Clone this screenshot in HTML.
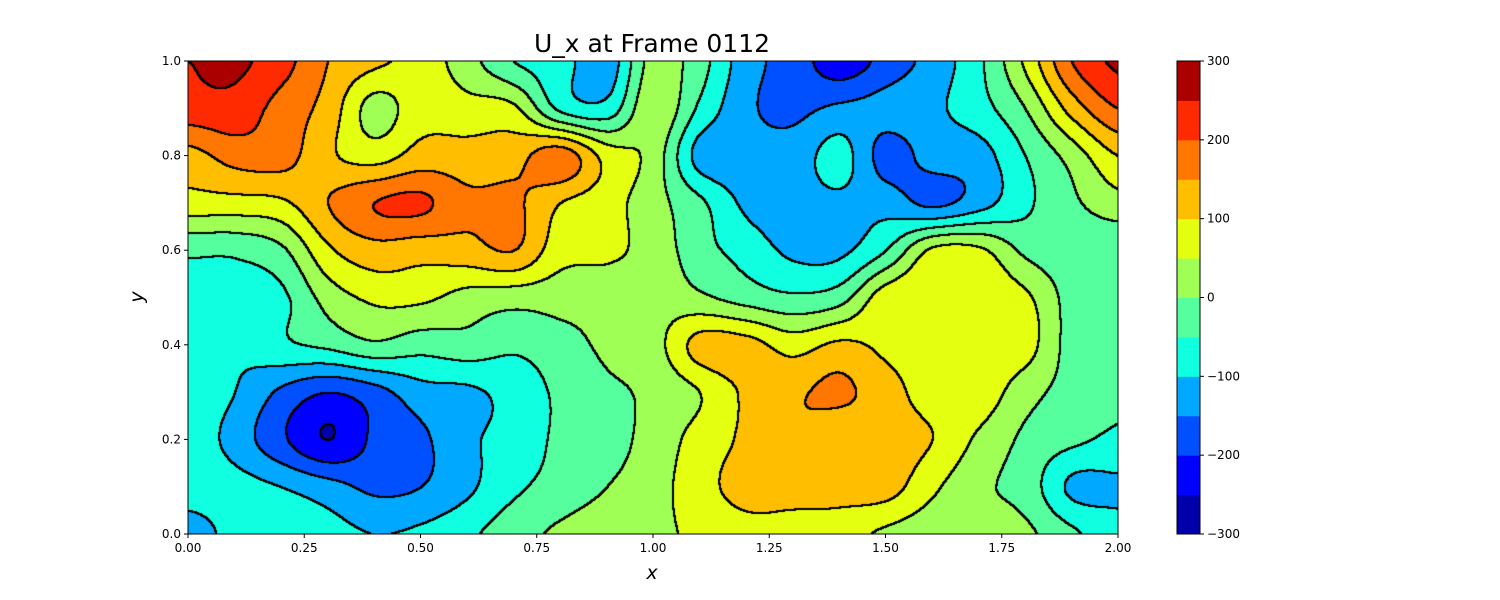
<!DOCTYPE html>
<html><head><meta charset="utf-8"><style>
body{margin:0;background:#fff;width:1500px;height:600px;overflow:hidden;font-family:"DejaVu Sans","Liberation Sans",sans-serif}
#plot{position:absolute;left:188px;top:61px}
svg{position:absolute;left:0;top:0;font-family:"DejaVu Sans","Liberation Sans",sans-serif}
</style></head><body>
<canvas id="plot" width="930" height="473"></canvas>
<svg id="ov" width="1500" height="600"></svg>
<script>
const xCoords=[0,0.1,0.2,0.3,0.4,0.5,0.6,0.7,0.8,0.9,1.0,1.1,1.2,1.3,1.4,1.5,1.6,1.7,1.8,1.9,2.0];
const yCoords=[0,0.1,0.2,0.3,0.4,0.5,0.6,0.7,0.8,0.9,1.0];
const row00=[-130,-80,-60,-80,-100,-90,-60,-20,10,30,40,60,80,80,70,40,20,20,10,-40,-80];
const row01=[-70,-80,-100,-130,-160,-150,-110,-60,-30,0,30,80,120,120,120,120,60,10,-20,-110,-110];
const row02=[-70,-120,-190,-250,-190,-160,-110,-80,-40,-20,20,70,110,140,110,120,100,40,-10,-40,-60];
const row03=[-70,-100,-160,-200,-170,-120,-110,-80,-40,-10,10,50,110,140,160,120,80,80,20,-20,-40];
const row04=[-70,-90,-60,-40,-10,-30,-20,-40,-20,10,30,120,120,80,110,90,80,80,70,-20,-40];
const row05=[-70,-70,-60,20,60,60,30,20,20,20,30,10,-20,-40,-20,80,90,90,60,-20,-40];
const row06=[-40,-40,-10,90,130,120,130,150,70,60,30,-30,-70,-110,-110,-50,60,60,-10,-30,-40];
const row07=[80,80,90,150,200,210,160,160,100,70,20,-40,-110,-120,-110,-120,-160,-120,-60,-10,30];
const row08=[130,170,170,110,80,120,120,130,180,80,30,-120,-130,-130,-80,-170,-130,-120,-50,20,100];
const row09=[230,230,180,130,30,80,70,60,-60,-80,40,-60,-140,-160,-140,-130,-110,-70,0,120,200];
const row10=[250,260,220,150,110,80,20,-50,-80,-130,20,-30,-130,-170,-230,-180,-130,-60,60,200,260];
const rows=[row00,row01,row02,row03,row04,row05,row06,row07,row08,row09,row10];
const levels=[-300,-250,-200,-150,-100,-50,0,50,100,150,200,250,300];
const colors=["#0000aa","#0000ff","#0050ff","#00a8ff","#10ffe0","#55ff9e","#a0ff55","#e4ff10","#ffbf00","#ff7600","#ff2a00","#aa0000"];
const colorTicks=[-300,-200,-100,0,100,200,300];
const xTicks=[0,0.25,0.5,0.75,1.0,1.25,1.5,1.75,2.0];
const yTicks=[0,0.2,0.4,0.6,0.8,1.0];

const PX=188,PY=61,PW=930,PH=473;
const sx=x=>PX+x/2*PW, sy=y=>PY+PH-y*PH;
function cr(p0,p1,p2,p3,t){return p1+0.5*t*(p2-p0+t*(2*p0-5*p1+4*p2-p3+t*(3*(p1-p2)+p3-p0)));}
function g(i,j){i=Math.max(0,Math.min(xCoords.length-1,i));j=Math.max(0,Math.min(yCoords.length-1,j));return rows[j][i];}
function field(x,y){
  const fx=x/0.1, fy=y/0.1, i=Math.min(Math.floor(fx),xCoords.length-2), j=Math.min(Math.floor(fy),yCoords.length-2);
  const tx=fx-i, ty=fy-j, r=[];
  for(let k=-1;k<=2;k++) r.push(cr(g(i-1,j+k),g(i,j+k),g(i+1,j+k),g(i+2,j+k),tx));
  return cr(r[0],r[1],r[2],r[3],ty);
}
function lvl(v){let k=Math.floor((v-levels[0])/50);return Math.max(0,Math.min(colors.length-1,k));}
const cv=document.getElementById('plot'),ctx=cv.getContext('2d');
const img=ctx.createImageData(PW,PH);
const L=new Int8Array(PW*PH);
for(let py=0;py<PH;py++)for(let px=0;px<PW;px++){L[py*PW+px]=lvl(field(px/PW*2,1-py/PH));}
const rgb=colors.map(c=>[parseInt(c.substr(1,2),16),parseInt(c.substr(3,2),16),parseInt(c.substr(5,2),16)]);
const offs=[[-1,0],[1,0],[0,-1],[0,1],[-1,-1],[1,1],[-1,1],[1,-1]];
for(let py=0;py<PH;py++)for(let px=0;px<PW;px++){
  const k=L[py*PW+px];let edge=false;
  for(const [dx,dy] of offs){const qx=px+dx,qy=py+dy;if(qx<0||qy<0||qx>=PW||qy>=PH)continue;if(L[qy*PW+qx]!==k){edge=true;break;}}
  const c=edge?[0,0,0]:rgb[k],o=(py*PW+px)*4;
  img.data[o]=c[0];img.data[o+1]=c[1];img.data[o+2]=c[2];img.data[o+3]=255;
}
ctx.putImageData(img,0,0);

const ov=document.getElementById('ov'),NS='http://www.w3.org/2000/svg';
function el(t,a,txt){const e=document.createElementNS(NS,t);for(const k in a)e.setAttribute(k,a[k]);if(txt!==undefined)e.textContent=txt;ov.appendChild(e);return e;}
let e;
e=el('rect',{x:PX,y:PY,width:PW,height:PH,fill:'none',stroke:'#000','stroke-width':1});


xTicks.forEach(t=>{
  e=el('line',{x1:sx(t),x2:sx(t),y1:PY+PH,y2:PY+PH+4,stroke:'#000'});
  
  
  e=el('text',{x:sx(t),y:PY+PH+18,'text-anchor':'middle','font-size':12},t.toFixed(2));
  
  
});
yTicks.forEach(t=>{
  e=el('line',{x1:PX-4,x2:PX,y1:sy(t),y2:sy(t),stroke:'#000'});
  
  
  e=el('text',{x:PX-7,y:sy(t)+4,'text-anchor':'end','font-size':12},t.toFixed(1));
  
  
});
e=el('text',{x:652,y:52,'text-anchor':'middle','font-size':25},'U_x at Frame 0112');


e=el('text',{x:652,y:579,'text-anchor':'middle','font-size':19,'font-style':'italic'},'x');


e=el('text',{x:143,y:297,'text-anchor':'middle','font-size':19,'font-style':'italic',transform:'rotate(-90 143 297)'},'y');


const CX=1177,CW=23,cy=v=>PY+PH-(v-levels[0])/(levels[levels.length-1]-levels[0])*PH;
colors.forEach((c,i)=>{
  e=el('rect',{x:CX,y:cy(levels[i+1]),width:CW,height:cy(levels[i])-cy(levels[i+1])+0.5,fill:c});
  
  
});
e=el('rect',{x:CX,y:PY,width:CW,height:PH,fill:'none',stroke:'#000'});


colorTicks.forEach(t=>{
  e=el('line',{x1:CX+CW,x2:CX+CW+4,y1:cy(t),y2:cy(t),stroke:'#000'});
  
  
  e=el('text',{x:CX+CW+7,y:cy(t)+4,'font-size':12},t<0?'\u2212'+(-t):String(t));
  
  
});
</script>
</body></html>
